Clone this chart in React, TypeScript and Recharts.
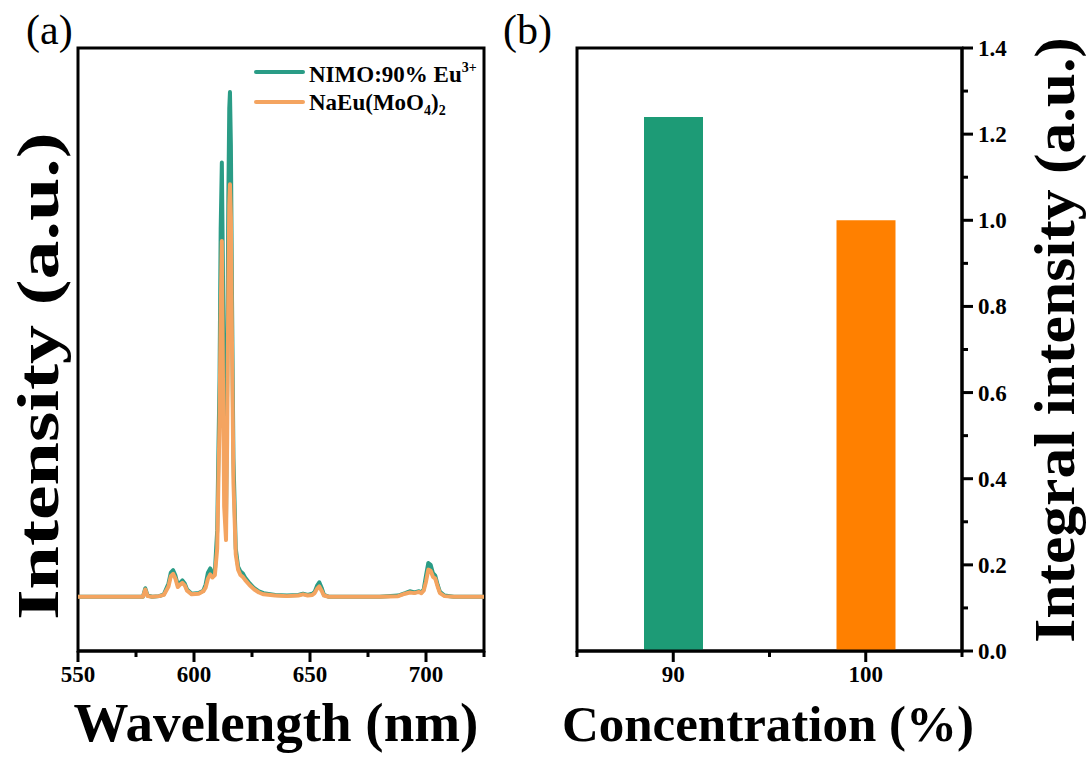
import React from 'react';
import {
  LineChart,
  Line,
  XAxis,
  YAxis,
  ReferenceArea,
  ComposedChart,
  Bar,
  Cell,
} from 'recharts';

// ---------- Panel (a): emission spectra ----------
const wavelength = [
  550, 560, 570, 578, 579, 580, 582, 585, 587, 589, 590, 591, 592, 593, 594, 595, 596, 597, 599,
  602, 604, 605, 606, 607, 608, 609, 610, 611, 611.5, 612, 612.5, 613, 613.8, 614.3, 614.8, 615.2,
  615.5, 615.9, 616.4, 617, 618, 619, 620, 621, 622, 624, 626, 628, 630, 635, 640, 645, 647, 649,
  651, 652, 653, 654, 655, 656, 658, 670, 680, 688, 691, 693, 695, 697, 698, 699, 700, 701, 702,
  703, 704, 705, 706, 708, 712, 720, 725,
];
const nimo90 = [
  9.0, 9.0, 9.0, 9.0, 10.4, 9.2, 9.0, 9.1, 9.4, 11.2, 13.0, 13.4, 12.5, 11.0, 11.3, 11.7, 11.2,
  10.2, 9.5, 9.6, 10.0, 11.0, 13.0, 13.7, 12.8, 13.2, 20.0, 45.0, 70.0, 81.0, 62.0, 38.0, 22.0,
  45.0, 75.0, 90.0, 92.7, 84.0, 58.0, 32.0, 17.0, 14.0, 13.2, 12.9, 12.2, 11.2, 10.4, 9.9, 9.6,
  9.3, 9.2, 9.3, 9.5, 9.3, 9.5, 9.8, 10.8, 11.4, 10.5, 9.3, 9.0, 9.0, 9.0, 9.2, 9.6, 9.9, 9.7,
  9.9, 9.7, 10.2, 12.5, 14.6, 14.3, 12.9, 12.5, 11.0, 9.8, 9.2, 9.0, 9.0, 9.0,
];
const naEuMoO4 = [
  9.0, 9.0, 9.0, 9.0, 10.2, 9.1, 9.0, 9.1, 9.3, 10.7, 12.4, 12.8, 12.0, 10.6, 11.0, 11.3, 10.9,
  10.0, 9.4, 9.5, 9.9, 10.5, 12.0, 12.7, 12.2, 12.6, 17.0, 38.0, 56.0, 68.0, 45.0, 24.0, 18.4,
  35.0, 60.0, 74.0, 77.4, 72.0, 50.0, 28.0, 16.0, 13.5, 12.6, 12.3, 11.8, 10.9, 10.2, 9.7, 9.4,
  9.2, 9.1, 9.2, 9.4, 9.2, 9.3, 9.6, 10.3, 10.7, 10.0, 9.2, 9.0, 9.0, 9.0, 9.1, 9.5, 9.7, 9.6,
  9.8, 9.6, 10.0, 11.5, 13.5, 13.3, 12.3, 12.0, 10.7, 9.6, 9.1, 9.0, 9.0, 9.0,
];
const xTicksA = [550, 575, 600, 625, 650, 675, 700, 725];
const seriesNames = ['NIMO:90% Eu', 'NaEu(MoO'];

// ---------- Panel (b): integral intensity ----------
const concentrations = [90, 100];
const integralIntensity = [1.24, 1.0];
const xTicksB = [85, 90, 95, 100, 105];
const xLabelsB = [90, 100];
const yTicksB = [0, 0.1, 0.2, 0.3, 0.4, 0.5, 0.6, 0.7, 0.8, 0.9, 1.0, 1.1, 1.2, 1.3, 1.4];

const spectrumData = wavelength.map((w, i) => ({ w, a: nimo90[i], b: naEuMoO4[i] }));
const barData = concentrations.map((c, i) => ({ c, v: integralIntensity[i] }));

const FONT = '"Liberation Serif", "Times New Roman", serif';
const GREEN_LINE = '#2A9C86';
const ORANGE_LINE = '#F4A460';
const BAR_COLORS = ['#1D9B76', '#FF8000'];

const TickA = (props: any) => {
  const { x, y, payload } = props;
  const major = payload.value % 50 === 0;
  return (
    <g>
      <line x1={x} x2={x} y1={y} y2={y + (major ? 11 : 6)} stroke="#000" strokeWidth={3} />
      {major && payload.value <= 700 && (
        <text
          x={x}
          y={y + 31}
          textAnchor="middle"
          fontFamily={FONT}
          fontWeight="bold"
          fontSize={23}
          fill="#000"
        >
          {payload.value}
        </text>
      )}
    </g>
  );
};

const TickBX = (props: any) => {
  const { x, y, payload } = props;
  const major = xLabelsB.includes(payload.value);
  return (
    <g>
      <line x1={x} x2={x} y1={y} y2={y + (major ? 11 : 6)} stroke="#000" strokeWidth={3} />
      {major && (
        <text
          x={x}
          y={y + 31}
          textAnchor="middle"
          fontFamily={FONT}
          fontWeight="bold"
          fontSize={23}
          fill="#000"
        >
          {payload.value}
        </text>
      )}
    </g>
  );
};

const TickBY = (props: any) => {
  const { x, y, payload } = props;
  const k = Math.round(payload.value * 10);
  const major = k % 2 === 0;
  return (
    <g>
      <line x1={x} x2={x + (major ? 11 : 6)} y1={y} y2={y} stroke="#000" strokeWidth={3} />
      {major && (
        <text
          x={x + 16}
          y={y + 8}
          textAnchor="start"
          fontFamily={FONT}
          fontWeight="bold"
          fontSize={23}
          fill="#000"
        >
          {payload.value.toFixed(1)}
        </text>
      )}
    </g>
  );
};

export default function App() {
  return (
    <div
      style={{
        position: 'absolute',
        left: 0,
        top: 0,
        width: 1087,
        height: 758,
        background: '#fff',
        fontFamily: FONT,
      }}
    >
      <div style={{ position: 'absolute', left: 0, top: 0 }}>
        <LineChart
          width={540}
          height={758}
          data={spectrumData}
          margin={{ top: 48, right: 56, bottom: 0, left: 78 }}
        >
          <XAxis
            dataKey="w"
            type="number"
            domain={[550, 725]}
            ticks={xTicksA}
            interval={0}
            height={107}
            tickSize={0}
            tickMargin={0}
            tickLine={false}
            axisLine={{ stroke: '#000', strokeWidth: 3 }}
            tick={<TickA />}
            allowDataOverflow
          />
          <YAxis hide type="number" domain={[0, 100]} />
          <Line
            type="linear"
            dataKey="a"
            name="NIMO:90% Eu3+"
            stroke={GREEN_LINE}
            strokeWidth={4}
            dot={false}
            isAnimationActive={false}
            strokeLinejoin="round"
          />
          <Line
            type="linear"
            dataKey="b"
            name="NaEu(MoO4)2"
            stroke={ORANGE_LINE}
            strokeWidth={4}
            dot={false}
            isAnimationActive={false}
            strokeLinejoin="round"
          />
          <ReferenceArea
            x1={550}
            x2={725}
            y1={0}
            y2={100}
            fill="none"
            fillOpacity={0}
            stroke="#000"
            strokeWidth={3}
            ifOverflow="visible"
          />
        </LineChart>
      </div>

      <div style={{ position: 'absolute', left: 540, top: 0 }}>
        <ComposedChart
          width={547}
          height={758}
          data={barData}
          margin={{ top: 48, right: 0, bottom: 0, left: 37 }}
        >
          <XAxis
            dataKey="c"
            type="number"
            domain={[85, 105]}
            ticks={xTicksB}
            interval={0}
            height={107}
            tickSize={0}
            tickMargin={0}
            tickLine={false}
            axisLine={{ stroke: '#000', strokeWidth: 3 }}
            tick={<TickBX />}
          />
          <YAxis
            orientation="right"
            type="number"
            domain={[0, 1.4]}
            ticks={yTicksB}
            interval={0}
            width={125}
            tickSize={0}
            tickMargin={0}
            tickLine={false}
            axisLine={{ stroke: '#000', strokeWidth: 3 }}
            tick={<TickBY />}
          />
          <Bar dataKey="v" barSize={59} isAnimationActive={false}>
            {barData.map((d, i) => (
              <Cell key={d.c} fill={BAR_COLORS[i]} />
            ))}
          </Bar>
          <ReferenceArea
            x1={85}
            x2={105}
            y1={0}
            y2={1.4}
            fill="none"
            fillOpacity={0}
            stroke="#000"
            strokeWidth={3}
            ifOverflow="visible"
          />
        </ComposedChart>
      </div>

      <svg
        width={1087}
        height={758}
        style={{ position: 'absolute', left: 0, top: 0, pointerEvents: 'none' }}
      >
        {/* legend of panel (a) */}
        <g transform="translate(255,58)">
          <line x1={1} x2={48} y1={14} y2={14} stroke={GREEN_LINE} strokeWidth={4} strokeLinecap="round" />
          <text x={54} y={24} fontFamily={FONT} fontWeight="bold" fontSize={23} fill="#000">
            {seriesNames[0]}
            <tspan dy={-10} fontSize={14}>
              3+
            </tspan>
          </text>
          <line x1={1} x2={48} y1={44} y2={44} stroke={ORANGE_LINE} strokeWidth={4} strokeLinecap="round" />
          <text x={54} y={52} fontFamily={FONT} fontWeight="bold" fontSize={23} fill="#000">
            {seriesNames[1]}
            <tspan dy={5} fontSize={14}>
              4
            </tspan>
            <tspan dy={-5}>)</tspan>
            <tspan dy={5} fontSize={14}>
              2
            </tspan>
          </text>
        </g>

        <text x={26} y={44} fontFamily={FONT} fontSize={42} fill="#000">
          (a)
        </text>
        <text x={503} y={44} fontFamily={FONT} fontSize={42} fill="#000">
          (b)
        </text>
        <text
          x={276}
          y={741}
          textAnchor="middle"
          fontFamily={FONT}
          fontWeight="bold"
          fontSize={55}
          fill="#000"
        >
          Wavelength (nm)
        </text>
        <text
          x={768}
          y={741}
          textAnchor="middle"
          fontFamily={FONT}
          fontWeight="bold"
          fontSize={51}
          fill="#000"
        >
          Concentration (%)
        </text>
        <text
          transform="translate(58,376) rotate(-90) scale(1.3,1)"
          textAnchor="middle"
          fontFamily={FONT}
          fontWeight="bold"
          fontSize={60}
          fill="#000"
        >
          Intensity (a.u.)
        </text>
        <text
          transform="translate(1074,340) rotate(-90) scale(1.1,1)"
          textAnchor="middle"
          fontFamily={FONT}
          fontWeight="bold"
          fontSize={56}
          fill="#000"
        >
          Integral intensity (a.u.)
        </text>
      </svg>
    </div>
  );
}
